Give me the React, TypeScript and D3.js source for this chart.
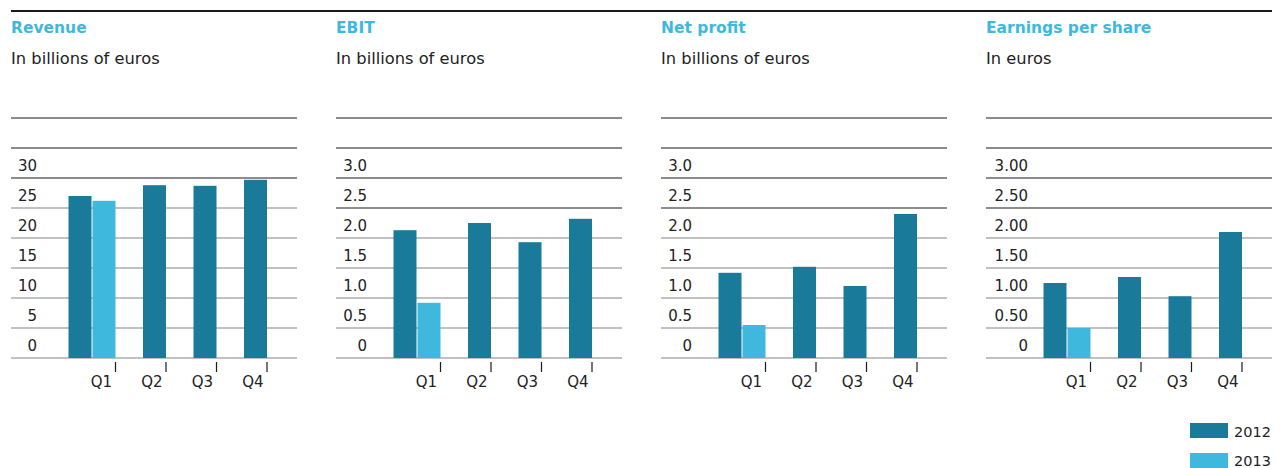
import React from "react";
import * as d3 from "d3";

// ---------- data ----------
const quarters = ["Q1", "Q2", "Q3", "Q4"];
const seriesNames = ["2012", "2013"];

const revenue2012 = [27.0, 28.8, 28.7, 29.7];
const revenue2013 = [26.2, null, null, null];
const ebit2012 = [2.13, 2.25, 1.93, 2.32];
const ebit2013 = [0.92, null, null, null];
const netProfit2012 = [1.42, 1.52, 1.2, 2.4];
const netProfit2013 = [0.55, null, null, null];
const eps2012 = [1.25, 1.35, 1.03, 2.1];
const eps2013 = [0.5, null, null, null];

const revenueTicks = [0, 5, 10, 15, 20, 25, 30];
const ebitTicks = [0, 0.5, 1.0, 1.5, 2.0, 2.5, 3.0];
const netProfitTicks = [0, 0.5, 1.0, 1.5, 2.0, 2.5, 3.0];
const epsTicks = [0, 0.5, 1.0, 1.5, 2.0, 2.5, 3.0];

const revenueTickLabels = ["0", "5", "10", "15", "20", "25", "30"];
const ebitTickLabels = ["0", "0.5", "1.0", "1.5", "2.0", "2.5", "3.0"];
const netProfitTickLabels = ["0", "0.5", "1.0", "1.5", "2.0", "2.5", "3.0"];
const epsTickLabels = ["0", "0.50", "1.00", "1.50", "2.00", "2.50", "3.00"];

const titles = ["Revenue", "EBIT", "Net profit", "Earnings per share"];
const subtitles = ["In billions of euros", "In billions of euros", "In billions of euros", "In euros"];

// ---------- styles / layout ----------
const COLORS = ["#1a7a99", "#3eb9dd"];
const TITLE_COLOR = "#3eb9dd";
const TEXT_COLOR = "#222";
const FONT = "'DejaVu Sans', sans-serif";

const panels = [
  { title: titles[0], subtitle: subtitles[0], s12: revenue2012, s13: revenue2013, ticks: revenueTicks, labels: revenueTickLabels, greyMax: 25, labelRight: 26 },
  { title: titles[1], subtitle: subtitles[1], s12: ebit2012, s13: ebit2013, ticks: ebitTicks, labels: ebitTickLabels, greyMax: 2.0, labelRight: 31 },
  { title: titles[2], subtitle: subtitles[2], s12: netProfit2012, s13: netProfit2013, ticks: netProfitTicks, labels: netProfitTickLabels, greyMax: 2.0, labelRight: 31 },
  { title: titles[3], subtitle: subtitles[3], s12: eps2012, s13: eps2013, ticks: epsTicks, labels: epsTickLabels, greyMax: 2.0, labelRight: 42 },
];

const PANEL_X0 = 11;
const PANEL_STEP = 325;
const PANEL_W = 286;
const BASE_Y = 358;
const TOP_Y = 178;
const BAR_W = 23;
const BAR_GAP = 1;

function Panel({ p, x0 }: { p: any; x0: number }) {
  const y = d3.scaleLinear().domain([p.ticks[0], p.ticks[p.ticks.length - 1]]).range([BASE_Y, TOP_Y]);
  const x = d3.scaleBand().domain(quarters).range([x0 + 54, x0 + 256]).paddingInner(0).paddingOuter(0);
  const bw = x.bandwidth();
  const step = y(p.ticks[0]) - y(p.ticks[1]);

  return (
    <g>
      <text x={x0} y={33} fill={TITLE_COLOR} fontFamily={FONT} fontWeight="bold" fontSize={15.5}>{p.title}</text>
      <text x={x0} y={64} fill={TEXT_COLOR} fontFamily={FONT} fontSize={16.3}>{p.subtitle}</text>
      {/* extra dark rules above the scale */}
      {[2, 1].map((k) => (
        <line key={"r" + k} x1={x0} x2={x0 + PANEL_W} y1={TOP_Y - k * step} y2={TOP_Y - k * step} stroke="#1a1a1a" strokeWidth={1.2} />
      ))}
      {p.ticks.map((t: number, i: number) => {
        const grey = t <= p.greyMax + 1e-9;
        return (
          <g key={i}>
            <line x1={x0} x2={x0 + PANEL_W} y1={y(t)} y2={y(t)} stroke={grey ? "#adadad" : "#1a1a1a"} strokeWidth={grey ? (i === 0 ? 1.6 : 1.3) : 1.2} />
            <text x={x0 + p.labelRight} y={y(t) - 7} textAnchor="end" fill={TEXT_COLOR} fontFamily={FONT} fontSize={15}>{p.labels[i]}</text>
          </g>
        );
      })}
      {quarters.map((q, qi) => {
        const vals = [p.s12[qi], p.s13[qi]];
        const present = vals.map((v, si) => ({ v, si })).filter((d) => d.v != null);
        const end = (x(q) as number) + bw;
        const n = present.length;
        return (
          <g key={q}>
            {present.map((d, k) => {
              const bx = end - (n - k) * BAR_W - (n - 1 - k) * BAR_GAP;
              return <rect key={k} x={bx} y={y(d.v)} width={BAR_W} height={y(0) - y(d.v)} fill={COLORS[d.si]} />;
            })}
            <line x1={end} x2={end} y1={362} y2={372} stroke="#1a1a1a" strokeWidth={1.2} />
            <text x={end - 3.5} y={387} textAnchor="end" fill={TEXT_COLOR} fontFamily={FONT} fontSize={15}>{q}</text>
          </g>
        );
      })}
    </g>
  );
}

export default function App() {
  return (
    <svg width={1275} height={468} style={{ position: "absolute", left: 0, top: 0, background: "#fff" }}>
      <line x1={11} x2={1272} y1={11} y2={11} stroke="#1a1a1a" strokeWidth={2} />
      {panels.map((p, i) => (
        <Panel key={i} p={p} x0={PANEL_X0 + i * PANEL_STEP} />
      ))}
      {seriesNames.map((s, i) => (
        <g key={s}>
          <rect x={1190} y={423 + i * 30} width={38} height={15} fill={COLORS[i]} />
          <text x={1234} y={436.5 + i * 29} fontSize={14.5} fill={TEXT_COLOR} fontFamily={FONT}>{s}</text>
        </g>
      ))}
    </svg>
  );
}
